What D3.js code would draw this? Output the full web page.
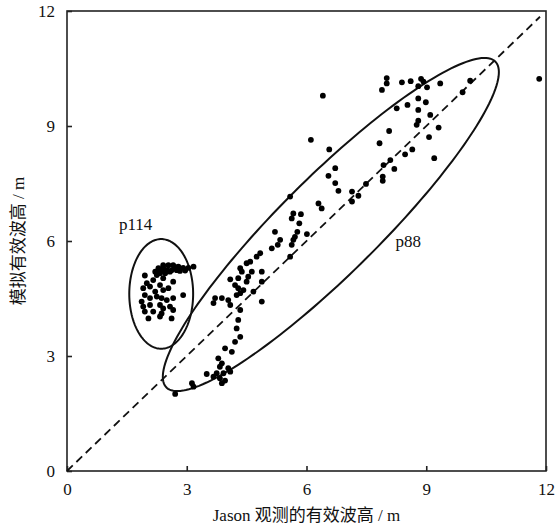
<!DOCTYPE html>
<html>
<head>
<meta charset="utf-8">
<script src="https://cdn.jsdelivr.net/npm/d3@7"></script>
<style>
  body { margin: 0; background: #fff; }
  svg { display: block; }
  text { font-family: "Liberation Serif", "Noto Sans CJK SC", serif; fill: #111; }
</style>
</head>
<body>
<svg id="chart" width="558" height="530"></svg>
<script>
// main group (p88) : Jason observed vs simulated Hs
var p88X = [8.01,8.01,7.89,8.39,8.61,8.87,8.93,9.02,8.80,9.35,10.10,9.91,6.41,8.80,8.99,8.53,8.26,8.80,9.10,8.80,
  8.76,9.31,8.07,9.07,6.11,7.83,6.57,8.65,8.47,9.20,8.10,7.93,8.20,6.72,6.55,7.91,7.91,7.49,6.72,6.80,
  7.14,7.30,7.14,6.30,6.38,5.59,5.67,5.86,5.63,5.82,5.77,6.01,5.67,
  5.21,5.71,5.34,5.28,5.13,5.63,5.59,4.84,4.75,4.59,4.50,4.34,4.38,4.63,4.88,4.54,4.29,4.09,4.50,4.88,
  4.21,4.29,4.42,4.67,4.34,4.25,3.71,3.88,4.04,3.67,4.09,4.88,4.34,4.29,4.25,4.34,4.21,3.96,4.13,3.79,
  3.88,3.83,4.04,4.09,3.92,3.75,3.50,3.83,3.67,3.96,3.88,3.13,3.17,2.71,11.83];
var p88Y = [10.25,10.11,9.94,10.14,10.17,10.23,10.16,10.01,10.04,10.11,10.18,9.88,9.79,9.72,9.62,9.55,9.46,9.42,9.29,9.14,
  9.03,8.96,8.87,8.71,8.64,8.55,8.39,8.39,8.26,8.16,8.11,7.98,7.88,7.90,7.70,7.68,7.57,7.49,7.51,7.31,
  7.29,7.18,7.03,6.98,6.85,7.16,6.72,6.70,6.59,6.46,6.24,6.18,6.03,
  6.24,6.11,6.03,5.90,5.81,5.90,5.59,5.68,5.59,5.46,5.42,5.29,5.20,5.20,5.20,5.07,5.03,5.00,4.94,4.94,
  4.85,4.77,4.72,4.68,4.64,4.59,4.51,4.51,4.46,4.38,4.33,4.42,4.20,3.94,3.72,3.50,3.37,3.20,3.11,2.94,
  2.81,2.72,2.68,2.59,2.55,2.55,2.53,2.42,2.46,2.36,2.29,2.29,2.20,2.01,10.23];

// p114 group
var p114X = [2.29,2.41,2.54,2.66,2.79,2.91,3.04,3.17,2.37,2.50,2.62,2.75,2.21,2.33,2.46,2.58,2.83,2.41,2.71,2.96,
  1.95,2.00,1.91,2.08,2.16,2.25,2.41,2.33,2.21,2.41,2.54,2.66,1.95,1.87,2.08,2.25,2.37,2.50,2.66,2.91,
  1.91,2.08,2.33,2.41,2.58,2.66,2.16,1.95,2.37,2.04,2.62,2.33];
var p114Y = [5.29,5.37,5.37,5.37,5.33,5.30,5.30,5.33,5.24,5.24,5.24,5.24,5.20,5.16,5.16,5.20,5.22,5.30,5.32,5.23,
  5.10,4.90,4.77,4.81,4.98,5.11,5.03,4.85,4.68,4.72,4.77,4.94,4.59,4.42,4.51,4.55,4.51,4.46,4.51,4.59,
  4.29,4.33,4.33,4.24,4.29,4.20,4.16,4.16,4.11,3.98,3.98,4.03];

// enclosing ellipses: centre, semi axes, angle (data units)
var ellipseNames = ["p88", "p114"];
var ellipseCx = [6.61, 2.36];
var ellipseCy = [6.43, 4.62];
var ellipseA = [5.92, 1.43];
var ellipseB = [1.25, 0.80];
var ellipseAngle = [46, 90];
var labelX = [8.55, 1.72];
var labelY = [6.0, 6.45];

var ticks = [0, 3, 6, 9, 12];

var svg = d3.select("#chart");
var margin = {top: 11, right: 12, bottom: 59, left: 67},
    width = 558 - margin.left - margin.right,
    height = 530 - margin.top - margin.bottom;

var x = d3.scaleLinear().domain([0, 12]).range([margin.left, margin.left + width]);
var y = d3.scaleLinear().domain([0, 12]).range([margin.top + height, margin.top]);

// frame
svg.append("rect")
  .attr("x", x(0)).attr("y", y(12))
  .attr("width", x(12) - x(0)).attr("height", y(0) - y(12))
  .attr("fill", "none").attr("stroke", "#222").attr("stroke-width", 1.6);

// x axis, ticks inward
var xAxis = svg.append("g")
  .attr("transform", "translate(0," + y(0) + ")")
  .call(d3.axisBottom(x).tickValues(ticks).tickSizeInner(-5).tickSizeOuter(0).tickPadding(12));
xAxis.select(".domain").remove();
xAxis.selectAll("line").attr("stroke", "#222").attr("stroke-width", 1.6);
xAxis.selectAll("text").style("font-size", "17px").style("font-family", "Liberation Serif").attr("fill", "#222");

// y axis
var yAxis = svg.append("g")
  .attr("transform", "translate(" + x(0) + ",0)")
  .call(d3.axisLeft(y).tickValues(ticks).tickSizeInner(-5).tickSizeOuter(0).tickPadding(12));
yAxis.select(".domain").remove();
yAxis.selectAll("line").attr("stroke", "#222").attr("stroke-width", 1.6);
yAxis.selectAll("text").style("font-size", "17px").style("font-family", "Liberation Serif").attr("fill", "#222");

// 1:1 line
svg.append("line")
  .attr("x1", x(0)).attr("y1", y(0))
  .attr("x2", x(11.85)).attr("y2", y(11.85))
  .attr("stroke", "#111").attr("stroke-width", 1.8)
  .attr("stroke-dasharray", "8,5");

// ellipses
var line = d3.line().curve(d3.curveLinearClosed);
ellipseNames.forEach(function (name, i) {
  var th = ellipseAngle[i] * Math.PI / 180;
  var pts = d3.range(0, 2 * Math.PI, Math.PI / 90).map(function (t) {
    var px = ellipseCx[i] + ellipseA[i] * Math.cos(t) * Math.cos(th) - ellipseB[i] * Math.sin(t) * Math.sin(th);
    var py = ellipseCy[i] + ellipseA[i] * Math.cos(t) * Math.sin(th) + ellipseB[i] * Math.sin(t) * Math.cos(th);
    return [x(px), y(py)];
  });
  svg.append("path")
    .attr("d", line(pts))
    .attr("fill", "none").attr("stroke", "#111").attr("stroke-width", 2);
  svg.append("text")
    .attr("x", x(labelX[i])).attr("y", y(labelY[i]))
    .attr("text-anchor", "middle").attr("dy", "0.35em")
    .style("font-size", "17px")
    .text(name);
});

// dots
var pts = p88X.map(function (d, i) { return [d, p88Y[i]]; })
  .concat(p114X.map(function (d, i) { return [d, p114Y[i]]; }));
svg.selectAll(".dot")
  .data(pts)
  .enter()
  .append("circle")
    .attr("class", "dot")
    .attr("cx", function (d) { return x(d[0]); })
    .attr("cy", function (d) { return y(d[1]); })
    .attr("r", 2.9)
    .style("fill", "#000");

// axis titles
svg.append("text")
  .attr("x", margin.left + width / 2).attr("y", 521)
  .attr("text-anchor", "middle")
  .style("font-size", "17px")
  .text("Jason 观测的有效波高 / m");

svg.append("text")
  .attr("transform", "translate(24," + (margin.top + height / 2) + ")rotate(-90)")
  .attr("text-anchor", "middle")
  .style("font-size", "17px")
  .text("模拟有效波高 / m");
</script>
</body>
</html>
